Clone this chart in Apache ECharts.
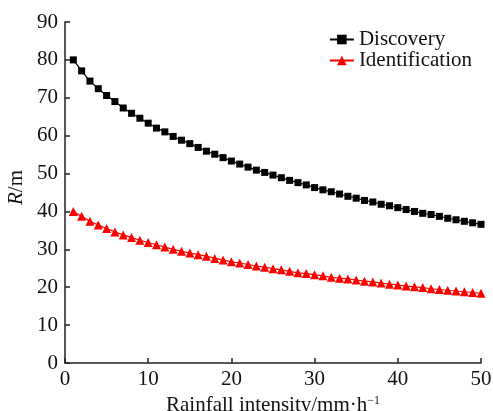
<!DOCTYPE html>
<html>
<head>
<meta charset="utf-8">
<script src="https://cdn.jsdelivr.net/npm/echarts@6/dist/echarts.min.js"></script>
<style>html,body{margin:0;padding:0;background:#fff}#c{width:493px;height:411px}</style>
</head>
<body>
<div id="c"></div>
<script>
const xValues = [1,2,3,4,5,6,7,8,9,10,11,12,13,14,15,16,17,18,19,20,21,22,23,24,25,26,27,28,29,30,31,32,33,34,35,36,37,38,39,40,41,42,43,44,45,46,47,48,49,50];
const discovery = [80.0,77.1,74.4,72.4,70.6,69.0,67.3,65.9,64.6,63.3,62.0,61.0,59.8,58.8,57.9,56.9,55.9,55.1,54.2,53.3,52.5,51.7,50.9,50.3,49.6,48.9,48.2,47.6,47.0,46.3,45.7,45.2,44.6,44.0,43.5,42.9,42.5,41.9,41.5,41.0,40.5,40.0,39.5,39.2,38.7,38.2,37.8,37.4,37.0,36.6];
const identification = [40.0,38.7,37.4,36.4,35.5,34.6,33.8,33.1,32.4,31.8,31.2,30.6,30.0,29.5,29.0,28.6,28.2,27.6,27.2,26.7,26.4,26.0,25.6,25.3,24.9,24.6,24.2,23.8,23.6,23.3,23.0,22.6,22.4,22.2,21.9,21.6,21.4,21.1,20.8,20.6,20.3,20.1,19.9,19.6,19.4,19.2,19.0,18.8,18.6,18.4];
const seriesNames = ['Discovery', 'Identification'];

const font = 'Liberation Serif, Times New Roman, serif';
const fs = 21;
const chart = echarts.init(document.getElementById('c'), null, {renderer: 'canvas'});
const axisCommon = {
  axisLine: {show: true, lineStyle: {color: '#222', width: 1.5}},
  axisTick: {show: true, inside: true, length: 5, lineStyle: {color: '#222', width: 1.5}},
  splitLine: {show: false}
};
chart.setOption({
  animation: false,
  backgroundColor: '#fff',
  grid: {left: 65, right: 12, top: 22, bottom: 48, containLabel: false, outerBoundsMode: 'none'},
  legend: {
    right: 16, top: 24, orient: 'vertical', itemGap: 0, itemWidth: 24, itemHeight: 12,
    textStyle: {fontFamily: font, fontSize: fs, color: '#111', lineHeight: 18},
    data: seriesNames
  },
  xAxis: Object.assign({
    type: 'value', min: 0, max: 50, interval: 10,
    name: '{a|Rainfall intensity/mm·h}{s|−1}',
    nameLocation: 'middle', nameGap: 31,
    nameTextStyle: {rich: {
      a: {fontFamily: font, fontSize: fs, color: '#111'},
      s: {fontFamily: font, fontSize: 12, color: '#111', padding: [0,0,10,0]}
    }},
    axisLabel: {color: '#111', fontFamily: font, fontSize: fs, margin: 6}
  }, axisCommon),
  yAxis: Object.assign({
    type: 'value', min: 0, max: 90, interval: 10,
    name: '{i|R}{a|/m}',
    nameLocation: 'middle', nameGap: 38, nameRotate: 90, nameMoveOverlap: false,
    nameTextStyle: {padding: [6,0,0,10], rich: {
      i: {fontFamily: font, fontSize: fs, fontStyle: 'italic', color: '#111'},
      a: {fontFamily: font, fontSize: fs, color: '#111'}
    }},
    axisLabel: {color: '#111', fontFamily: font, fontSize: fs, margin: 7}
  }, axisCommon),
  series: [
    {
      name: seriesNames[0], type: 'line',
      data: xValues.map((x, i) => [x, discovery[i]]),
      symbol: 'rect', symbolSize: 7, showAllSymbol: true,
      itemStyle: {color: '#000'}, lineStyle: {color: '#000', width: 1.2}
    },
    {
      name: seriesNames[1], type: 'line',
      data: xValues.map((x, i) => [x, identification[i]]),
      symbol: 'triangle', symbolSize: 9, showAllSymbol: true,
      itemStyle: {color: '#ff0000'}, lineStyle: {color: '#ff0000', width: 1.2}
    }
  ]
});
</script>
</body>
</html>
